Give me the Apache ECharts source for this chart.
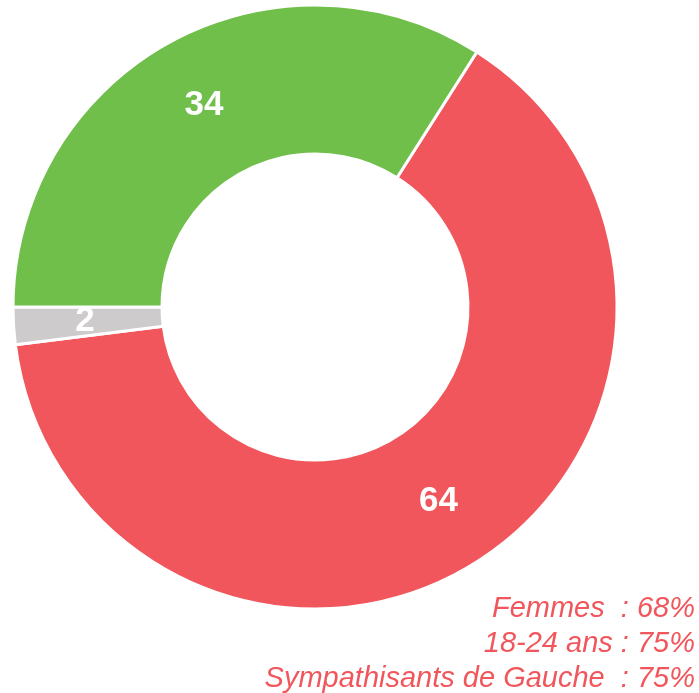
<!DOCTYPE html>
<html><head><meta charset="utf-8">
<script src="https://cdn.jsdelivr.net/npm/echarts@6/dist/echarts.min.js"></script>
<style>html,body{margin:0;padding:0;background:#fff}#c{width:699px;height:693px}</style>
</head><body><div id="c"></div>
<script>
const categories = ['Rouge', 'Gris', 'Vert'];
const values = [64, 2, 34];
const colors = ['#f0565b', '#cdcbcc', '#71bf4b'];
const notes = ['Femmes  : 68%', '18-24 ans : 75%', 'Sympathisants de Gauche  : 75%'];

const chart = echarts.init(document.getElementById('c'));
chart.setOption({
  animation: false,
  series: [{
    type: 'pie',
    center: [315, 307],
    radius: [153, 302],
    startAngle: 57.6,
    clockwise: true,
    label: {
      show: true, position: 'inside', formatter: '{c}',
      color: '#fff', fontFamily: '"Liberation Sans", Arial, sans-serif',
      fontWeight: 'bold', fontSize: 35
    },
    labelLine: { show: false },
    itemStyle: { borderColor: '#fff', borderWidth: 3 },
    emphasis: { disabled: true },
    data: categories.map((n, i) => ({ name: n, value: values[i], itemStyle: { color: colors[i] } }))
  }],
  graphic: notes.map((t, i) => ({
    type: 'text', x: 695, y: 609 + i * 35,
    style: {
      text: t, fill: '#f0565b', font: 'italic 29px "Liberation Sans", Arial, sans-serif',
      textAlign: 'right', textVerticalAlign: 'middle'
    }
  }))
});
</script></body></html>
